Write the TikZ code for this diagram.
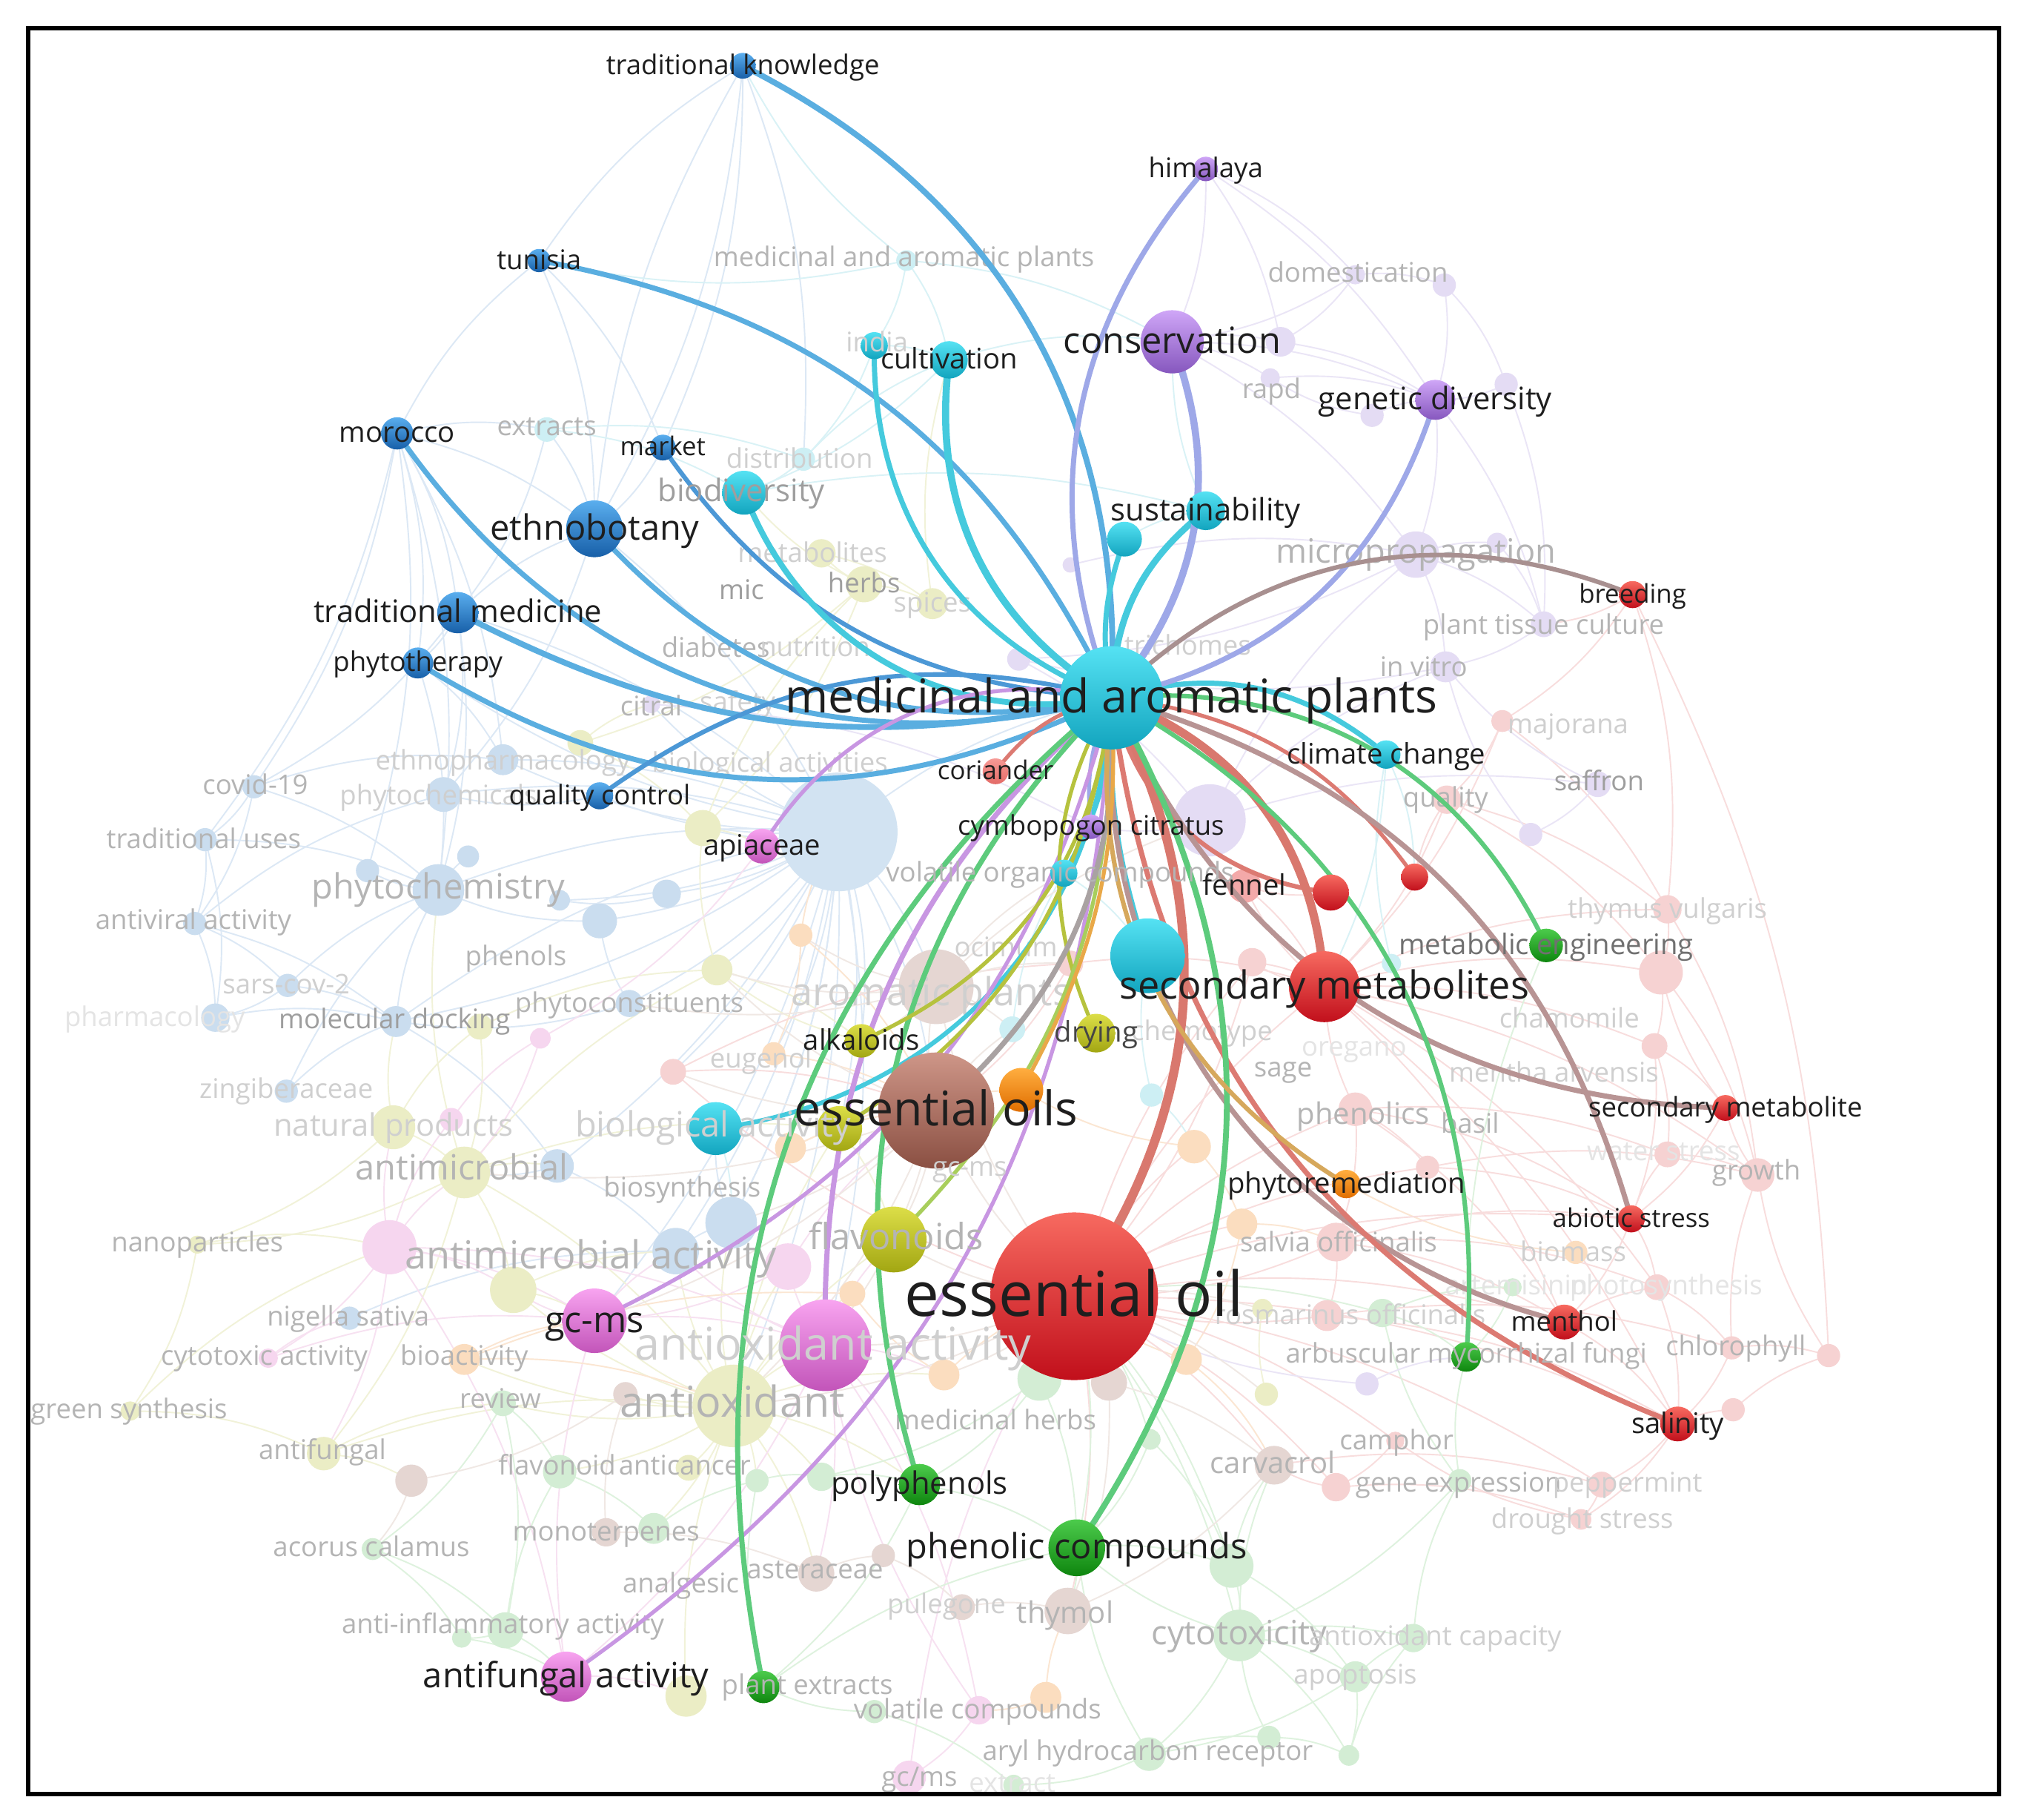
\documentclass[tikz,border=0pt]{standalone}
\usepackage{fontspec}
\setmainfont{Open Sans}
\pgfdeclarelayer{l0}\pgfdeclarelayer{l1}\pgfdeclarelayer{l2}\pgfdeclarelayer{l3}
\pgfdeclarelayer{l4}\pgfdeclarelayer{l5}\pgfdeclarelayer{l6}
\pgfsetlayers{l0,l1,l2,l3,l4,main,l5,l6}
\newcounter{lc}
% node colours (top / bottom)
\definecolor{blT}{HTML}{5AAEEE}\definecolor{blD}{HTML}{175FA8}
\definecolor{cyT}{HTML}{55E2F3}\definecolor{cyD}{HTML}{12A4BE}
\definecolor{puT}{HTML}{CFA6F7}\definecolor{puD}{HTML}{8657BE}
\definecolor{rdT}{HTML}{F76A60}\definecolor{rdD}{HTML}{C10F1B}
\definecolor{grT}{HTML}{4CCB4C}\definecolor{grD}{HTML}{0E850E}
\definecolor{olT}{HTML}{DCDE48}\definecolor{olD}{HTML}{A2A612}
\definecolor{brT}{HTML}{CE9688}\definecolor{brD}{HTML}{8A4F42}
\definecolor{ogT}{HTML}{FFAE40}\definecolor{ogD}{HTML}{E06E00}
\definecolor{pkT}{HTML}{F8A4F0}\definecolor{pkD}{HTML}{C254B9}
\definecolor{saT}{HTML}{F79A96}\definecolor{saD}{HTML}{E36A66}
% highlighted link colours
\definecolor{cBlu}{HTML}{5AAEE0}\definecolor{cBlu2}{HTML}{4C98D6}
\definecolor{cCy}{HTML}{45CADD}\definecolor{cPu}{HTML}{9EA8E8}
\definecolor{cPk}{HTML}{C896E2}\definecolor{cTeRd}{HTML}{A89090}
\definecolor{cRd}{HTML}{DC7A72}\definecolor{cRd2}{HTML}{D9786E}
\definecolor{cGrRd}{HTML}{B89494}\definecolor{cGr}{HTML}{5DCB7C}
\definecolor{cOl}{HTML}{B6C23E}\definecolor{cOl2}{HTML}{A8CE5C}
\definecolor{cBrG}{HTML}{A9A2A2}\definecolor{cOg}{HTML}{E9A848}
\definecolor{cOg2}{HTML}{D6A85C}
% faded node colours
\definecolor{fCy}{HTML}{CDEFF4}\definecolor{fYe}{HTML}{EBEDC5}
\definecolor{fPu}{HTML}{E4DCF4}\definecolor{fRd}{HTML}{F6D2D2}
\definecolor{fBl}{HTML}{CADDEF}\definecolor{fBl2}{HTML}{D2E3F2}
\definecolor{fPk}{HTML}{F6D6EF}\definecolor{fGr}{HTML}{D3EDD4}
\definecolor{fBr}{HTML}{E5D6D2}\definecolor{fOr}{HTML}{FBDDBF}
\definecolor{fennelC}{HTML}{F3A9A9}
% faint link colours
\definecolor{lBl}{HTML}{DCE8F5}\definecolor{lYe}{HTML}{F1F2D8}
\definecolor{lPk}{HTML}{F7E1F1}\definecolor{lRd}{HTML}{F8DDDD}
\definecolor{lGr}{HTML}{DEF2DE}\definecolor{lPu}{HTML}{EAE5F6}
\definecolor{lCy}{HTML}{D9F2F6}\definecolor{lOr}{HTML}{FBE6D2}
\definecolor{lMx}{HTML}{F0E8E4}
% label colours
\definecolor{labK}{HTML}{1E1E1E}\definecolor{fa}{HTML}{9E9E9E}
\definecolor{fb}{HTML}{B4B4B4}\definecolor{fc}{HTML}{CFCFCF}
\definecolor{fd}{HTML}{E4E4E4}\definecolor{mgray}{HTML}{707070}
\definecolor{dgray}{HTML}{454545}
\tikzset{
  every node/.append style={inner sep=0pt, outer sep=0pt},
  fnd/.style 2 args={circle, fill=#2, minimum size=#1},
  hlab/.style={font=\fontsize{#1}{#1}\selectfont, text=labK, anchor=base, yshift=-0.32*#1},
  flab/.style 2 args={font=\fontsize{#1}{#1}\selectfont, text=#2, anchor=base, yshift=-0.32*#1},
  faint/.style={line width=1.1pt},
}
\newcommand\FN[5]{\node[fnd={#4}{#5}] (#1) at (#2,#3) {};}
\newcommand\HN[5]{\node[circle, minimum size=#4, top color=#5T, bottom color=#5D] (#1) at (#2,#3) {};}
\newcommand\HL[3]{\node[hlab=#2] (#1-lab) at (#1.center) {#3};}
\newcommand\HLk[4]{\draw[line width=#3, color=#2, line cap=round] (map.center) to[#4] (#1.center);}
\newcommand\FL[5]{\stepcounter{lc}\node[flab={#3}{#4}] (fl\arabic{lc}) at (#1,#2) {#5};}
\begin{document}
\begin{tikzpicture}[x=1pt,y=-1pt]
\useasboundingbox (0,0) rectangle (1568,1411);
\begin{pgfonlayer}{l0}
\fill[white] (0,0) rectangle (1568,1411);
\end{pgfonlayer}
% ---------------- faded nodes
\begin{pgfonlayer}{l2}
\FN{mapN}{703}{202}{16}{fCy}
\FN{extractsN}{424}{333}{19}{fCy}
\FN{distrN}{623}{356}{18}{fCy}
\FN{metabN}{637}{429}{22}{fYe}
\FN{herbsN}{670}{453}{28}{fYe}
\FN{spicesN}{723}{468}{24}{fYe}
\FN{domN1}{1051}{213}{15}{fPu}
\FN{domN2}{1120}{221}{18}{fPu}
\FN{fpu1}{993}{265}{23}{fPu}
\FN{rapdN}{985}{293}{15}{fPu}
\FN{fpu2}{1064}{322}{18}{fPu}
\FN{fpu3}{1168}{298}{18}{fPu}
\FN{microN}{1098}{430}{36}{fPu}
\FN{fpu4}{1161}{421}{16}{fPu}
\FN{fpu5}{830}{438}{12}{fPu}
\FN{ptcN}{1197}{484}{20}{fPu}
\FN{invitroN}{1121}{517}{24}{fPu}
\FN{fpu6}{790}{511}{18}{fPu}
\FN{fr1}{1165}{559}{17}{fRd}
\FN{qualityN}{1122}{620}{22}{fRd}
\FN{saffronN}{1239}{608}{20}{fPu}
\FN{fpu7}{1187}{647}{18}{fPu}
\FN{bigpurp}{938}{636}{56}{fPu}
\FN{thymvN}{1293}{705}{22}{fRd}
\FN{fr5}{1288}{754}{34}{fRd}
\FN{fr6}{1283}{811}{20}{fRd}
\FN{waterN}{1293}{895}{20}{fRd}
\FN{growthN}{1363}{911}{26}{fRd}
\FN{phenolicsN}{1051}{860}{26}{fRd}
\FN{fr2}{971}{746}{22}{fRd}
\FN{fc2}{1079}{747}{15}{fCy}
\FN{fo6}{926}{889}{26}{fOr}
\FN{fc1}{893}{849}{18}{fCy}
\FN{fr4}{1107}{905}{18}{fRd}
\FN{fr3}{830}{747}{20}{fRd}
\FN{fennelN}{965}{687}{26}{fennelC}
\FN{fo1}{621}{725}{18}{fOr}
\FN{fy3}{556}{752}{24}{fYe}
\FN{fb1}{517}{693}{22}{fBl}
\FN{fb2}{465}{714}{27}{fBl}
\FN{fb3}{434}{698}{16}{fBl}
\FN{phytocon}{488}{778}{21}{fBl}
\FN{fp2}{419}{805}{16}{fPk}
\FN{eugenN}{522}{831}{20}{fRd}
\FN{fo2}{600}{817}{18}{fOr}
\FN{aromN}{726}{765}{58}{fBr}
\FN{fc3}{785}{798}{20}{fCy}
\FN{fo3}{613}{890}{24}{fOr}
\FN{fy1}{450}{576}{20}{fYe}
\FN{fy2}{545}{642}{28}{fYe}
\FN{fb4}{432}{904}{26}{fBl}
\FN{citralN}{505}{546}{14}{fPu}
\FN{ethnoph}{390}{589}{24}{fBl}
\FN{covid}{197}{610}{18}{fBl}
\FN{tuses}{159}{651}{18}{fBl}
\FN{bb1}{285}{675}{18}{fBl}
\FN{phytochem}{340}{690}{40}{fBl}
\FN{phytochemicals}{344}{616}{27}{fBl}
\FN{bb2}{363}{664}{17}{fBl}
\FN{antiv}{151}{716}{18}{fBl}
\FN{sars}{223}{764}{18}{fBl}
\FN{pharm}{167}{789}{22}{fBl}
\FN{moldock}{307}{792}{24}{fBl}
\FN{fy4}{372}{796}{20}{fYe}
\FN{zingib}{222}{846}{18}{fBl}
\FN{natprod}{305}{874}{34}{fYe}
\FN{fp1}{350}{868}{18}{fPk}
\FN{antimic}{360}{909}{40}{fYe}
\FN{bigblue}{650}{645}{92}{fBl2}
\FN{nanop}{153}{965}{14}{fYe}
\FN{antimicact}{302}{967}{42}{fPk}
\FN{fy5}{398}{1000}{36}{fYe}
\FN{nigella}{271}{1022}{18}{fBl}
\FN{cytoact}{208}{1053}{15}{fPk}
\FN{bioactN}{360}{1054}{24}{fOr}
\FN{reviewN}{390}{1088}{20}{fGr}
\FN{greensyn}{101}{1094}{15}{fYe}
\FN{antifung}{251}{1127}{26}{fYe}
\FN{fbr1}{319}{1148}{25}{fBr}
\FN{acorusN}{289}{1201}{17}{fGr}
\FN{fg1}{392}{1264}{28}{fGr}
\FN{fg2}{358}{1270}{15}{fGr}
\FN{fb5}{524}{970}{36}{fBl}
\FN{fb6}{567}{948}{40}{fBl}
\FN{fp3}{611}{982}{36}{fPk}
\FN{fo4}{661}{1003}{20}{fOr}
\FN{antiox}{569}{1090}{64}{fYe}
\FN{fbr2}{485}{1081}{19}{fBr}
\FN{fo5}{732}{1066}{24}{fOr}
\FN{flavoidN}{434}{1141}{26}{fGr}
\FN{fg3}{587}{1148}{18}{fGr}
\FN{fy6}{534}{1138}{20}{fYe}
\FN{fg4}{637}{1145}{22}{fGr}
\FN{fg5}{507}{1185}{24}{fGr}
\FN{fbr3}{470}{1188}{22}{fBr}
\FN{asterN}{633}{1220}{28}{fBr}
\FN{fbr4}{685}{1206}{18}{fBr}
\FN{fy7}{532}{1315}{32}{fYe}
\FN{pulegN}{746}{1246}{20}{fBr}
\FN{fp4}{759}{1326}{22}{fPk}
\FN{fp5}{705}{1378}{26}{fPk}
\FN{fg14}{678}{1327}{18}{fGr}
\FN{fg15}{786}{1384}{16}{fGr}
\FN{fo7}{963}{949}{24}{fOr}
\FN{salviaN}{1036}{963}{30}{fRd}
\FN{rosmN}{1029}{1020}{24}{fRd}
\FN{fg6}{1072}{1018}{22}{fGr}
\FN{fy9}{979}{1015}{16}{fYe}
\FN{fy8}{982}{1081}{18}{fYe}
\FN{fo8}{920}{1054}{24}{fOr}
\FN{fg7}{806}{1069}{34}{fGr}
\FN{fbr5}{860}{1072}{28}{fBr}
\FN{fpu8}{1060}{1073}{18}{fPu}
\FN{fg8}{892}{1116}{16}{fGr}
\FN{carvN}{988}{1136}{30}{fBr}
\FN{fr9}{1036}{1153}{22}{fRd}
\FN{fg9}{1132}{1148}{18}{fGr}
\FN{camphorN}{1082}{1117}{14}{fRd}
\FN{fg10}{955}{1214}{34}{fGr}
\FN{thymolN}{828}{1249}{36}{fBr}
\FN{cytotoxN}{961}{1268}{40}{fGr}
\FN{antioxcapN}{1096}{1270}{22}{fGr}
\FN{apoptN}{1051}{1300}{24}{fGr}
\FN{fo9}{811}{1316}{24}{fOr}
\FN{fg11}{984}{1347}{18}{fGr}
\FN{fg12}{891}{1360}{26}{fGr}
\FN{fg13}{1046}{1361}{16}{fGr}
\FN{biomassN}{1222}{971}{18}{fOr}
\FN{fg16}{1173}{998}{14}{fGr}
\FN{photoN}{1285}{998}{20}{fRd}
\FN{chloroN}{1343}{1045}{18}{fRd}
\FN{fr7}{1418}{1051}{18}{fRd}
\FN{fr8}{1344}{1093}{18}{fRd}
\FN{pepperN}{1242}{1151}{20}{fRd}
\FN{droughtN}{1226}{1178}{16}{fRd}
\end{pgfonlayer}
% ---------------- highlighted nodes
\HN{map}{862}{541}{80}{cy}
\HN{tk}{576}{51}{20}{bl}
\HN{tunisia}{418}{202}{18}{bl}
\HN{morocco}{308}{336}{25}{bl}
\HN{market}{514}{347}{20}{bl}
\HN{ethno}{461}{410}{44}{bl}
\HN{tradmed}{355}{475}{32}{bl}
\HN{phytoth}{324}{514}{24}{bl}
\HN{qc}{465}{617}{21}{bl}
\HN{cult}{736}{279}{29}{cy}
\HN{india}{678}{268}{21}{cy}
\HN{biodiv}{577}{382}{34}{cy}
\HN{sustain}{935}{396}{30}{cy}
\HN{cyanS}{872}{418}{27}{cy}
\HN{climate}{1075}{585}{22}{cy}
\HN{voc}{825}{677}{21}{cy}
\HN{cyanbig}{890}{741}{58}{cy}
\HN{bioact}{555}{875}{41}{cy}
\HN{himalaya}{935}{131}{19}{pu}
\HN{conserv}{909}{265}{49}{pu}
\HN{genetic}{1113}{310}{31}{pu}
\HN{cymbo}{846}{641}{19}{pu}
\HN{breeding}{1266}{461}{21}{rd}
\HN{redA}{1097}{680}{21}{rd}
\HN{redB}{1032}{692}{28}{rd}
\HN{secmets}{1027}{765}{55}{rd}
\HN{secmet}{1338}{859}{20}{rd}
\HN{abiotic}{1265}{945}{21}{rd}
\HN{menthol}{1213}{1025}{27}{rd}
\HN{salinity}{1301}{1104}{27}{rd}
\HN{essoil}{833}{1005}{130}{rd}
\HN{coriander}{772}{598}{20}{sa}
\HN{metaeng}{1199}{733}{26}{gr}
\HN{arbus}{1137}{1052}{23}{gr}
\HN{phencomp}{835}{1200}{44}{gr}
\HN{polyph}{713}{1151}{32}{gr}
\HN{plantext}{592}{1308}{25}{gr}
\HN{alkal}{668}{807}{26}{ol}
\HN{drying}{850}{801}{30}{ol}
\HN{yellowN}{651}{875}{35}{ol}
\HN{flavon}{693}{961}{51}{ol}
\HN{essoils}{726}{861}{90}{br}
\HN{orangeN}{792}{845}{34}{og}
\HN{phytorem}{1044}{918}{22}{og}
\HN{apiac}{591}{656}{27}{pk}
\HN{gcms}{461}{1024}{50}{pk}
\HN{pinkbig}{640}{1043}{71}{pk}
\HN{antifact}{439}{1300}{39}{pk}
% ---------------- faint links
\begin{pgfonlayer}{l1}
\foreach \a/\b in {morocco/tradmed,morocco/phytoth,morocco/ethno,morocco/tunisia,morocco/covid,morocco/phytochem,morocco/ethnoph,morocco/bb1,morocco/tuses,morocco/extractsN,tunisia/ethno,tunisia/market,tunisia/tk,tk/ethno,tk/market,tk/distrN,tradmed/phytoth,tradmed/phytochem,tradmed/ethno,tradmed/covid,tradmed/bigblue,tradmed/phytochemicals,phytoth/phytochem,phytoth/ethnoph,covid/tuses,covid/antiv,covid/ethnoph,covid/phytochem,tuses/antiv,tuses/phytochem,tuses/pharm,antiv/sars,antiv/pharm,antiv/moldock,sars/moldock,sars/pharm,sars/phytochem,pharm/moldock,moldock/phytochem,moldock/bigblue,phytochem/bigblue,phytochem/bb1,phytochem/bb2,phytochemicals/bigblue,ethnoph/bigblue,ethno/bigblue,ethno/phytochemicals,zingib/phytochem,zingib/moldock,nigella/fb5,bigblue/fb1,bigblue/fb2,bigblue/fb3,bigblue/phytocon,bigblue/fb6,bigblue/fb4,bigblue/essoils,bigblue/qc,bigblue/fy2,bigblue/pinkbig,bigblue/fb5,bigblue/map,bigblue/aromN,bigblue/citralN,phytocon/moldock,fb4/antimic,fb5/fb6,qc/phytochemicals,market/ethno,extractsN/ethno,extractsN/tradmed,fb2/phytochem,fb1/fb3,antiv/phytochemicals,bigblue/antiox,bigblue/gcms,bigblue/fy3,bigblue/alkal,bigblue/yellowN,bigblue/fo2,bigblue/eugenN,bigblue/phytoth,bigblue/ethnoph,bigblue/moldock,bigblue/fb6,fb4/fb5,fb6/bioact,phytocon/fb2,moldock/fb4,ethno/tk}
  \draw[faint,lBl] (\a.center) to[bend left=12] (\b.center);
\foreach \a/\b in {natprod/antimic,natprod/fy4,natprod/nanop,antimic/nanop,antimic/antifung,antimic/antiox,antimic/fy5,nanop/greensyn,greensyn/antifung,antifung/antiox,antifung/fbr1,antiox/fy6,antiox/fy5,antiox/flavon,antiox/yellowN,fy3/fy2,fy3/alkal,herbsN/spicesN,herbsN/metabN,metabN/spicesN,herbsN/fy1,fy1/fy2,fy7/antiox,fy8/fy9,antimic/phytochem,greensyn/antimicact,nanop/antimicact,fy4/antimic,natprod/moldock,fy5/gcms,antifung/reviewN,fy2/apiac,herbsN/biodiv,spicesN/cult,antiox/pinkbig,antiox/fp3,antiox/fb6,antiox/fb5,antiox/gcms,antiox/bioactN,antiox/reviewN,antiox/flavoidN,antiox/fg5,antiox/fbr2,antiox/fo4,antiox/fo5,antiox/polyph,antiox/fg3,antiox/fg4,antiox/asterN,antimic/yellowN,antimic/fy3,antimic/fb4,fy4/fy3,fy5/fb5,yellowN/flavon,alkal/fy3,fy2/herbsN,fy1/citralN,herbsN/fy2}
  \draw[faint,lYe] (\a.center) to[bend left=12] (\b.center);
\foreach \a/\b in {antimicact/cytoact,antimicact/gcms,antimicact/pinkbig,antimicact/fp1,fp1/fp2,cytoact/gcms,gcms/pinkbig,pinkbig/fp3,pinkbig/antifact,antifact/gcms,fp4/fp5,fp4/pinkbig,fp5/essoil,apiac/fp2,antimicact/antifact,cytoact/nigella,fp3/essoils,antifact/fy7,pinkbig/fp4,pinkbig/polyph,pinkbig/flavon,pinkbig/fo5,pinkbig/fb5,antimicact/fy5,antimicact/natprod,antimicact/antimic,antimicact/antifung,gcms/fb5,gcms/fy5,fp3/gcms,pinkbig/asterN,fp2/antimic}
  \draw[faint,lPk] (\a.center) to[bend left=12] (\b.center);
\foreach \a/\b in {bioactN/fo4,bioactN/antiox,fo1/fo2,fo3/orangeN,fo5/fo4,fo6/fo7,fo7/fo8,fo8/essoil,fo9/fp4,biomassN/phytorem,fo6/orangeN,fo1/bigblue,fo5/essoil,fo9/thymolN,bioactN/gcms,fo3/essoils,fo2/essoils,fo1/essoils,fo4/pinkbig,fo8/carvN,fo7/salviaN}
  \draw[faint,lOr] (\a.center) to[bend left=12] (\b.center);
\foreach \a/\b in {fr1/qualityN,qualityN/secmets,qualityN/thymvN,thymvN/fr5,fr5/fr6,fr6/waterN,waterN/growthN,growthN/secmet,secmet/fr5,secmet/abiotic,abiotic/waterN,abiotic/menthol,abiotic/photoN,photoN/chloroN,chloroN/fr7,chloroN/salinity,salinity/fr8,fr8/fr7,salinity/pepperN,salinity/droughtN,menthol/photoN,pepperN/droughtN,droughtN/camphorN,camphorN/fr9,fr9/carvN,salviaN/rosmN,salviaN/essoil,rosmN/essoil,phenolicsN/secmets,phenolicsN/salviaN,phenolicsN/fr4,fr4/abiotic,fr2/secmets,fr3/essoils,eugenN/essoils,essoil/phenolicsN,essoil/carvN,essoil/thymolN,secmets/growthN,secmets/thymvN,breeding/fr1,breeding/ptcN,thymvN/growthN,fr1/thymvN,secmets/fr5,fr6/secmet,chloroN/growthN,fr7/growthN,breeding/fr7,breeding/thymvN,secmets/salinity,menthol/salinity,secmets/menthol,qualityN/fr5,fr1/secmets,redA/qualityN,redB/fennelN,fennelN/secmets,secmets/fr6,phenolicsN/abiotic,salviaN/menthol,fr5/growthN,photoN/salinity,essoil/fr9,eugenN/fr3,fr2/essoil,rosmN/salinity,secmets/photoN,salviaN/abiotic,essoil/fr4,essoil/camphorN,essoil/pepperN,essoil/menthol,essoil/secmets,essoil/abiotic,essoil/salinity,essoil/fo6,essoil/fo7,essoil/fr2,phenolicsN/menthol,phenolicsN/waterN,fr4/growthN,fr6/abiotic,salviaN/photoN,rosmN/chloroN,carvN/pepperN,fr9/droughtN,essoil/eugenN,secmets/fennelN,secmets/fr2,fr3/secmets}
  \draw[faint,lRd] (\a.center) to[bend left=12] (\b.center);
\foreach \a/\b in {reviewN/acorusN,reviewN/fg1,acorusN/fg1,acorusN/fg2,fg1/fg2,fg1/flavoidN,flavoidN/fg5,fg5/fg3,fg3/fg4,fg4/polyph,polyph/phencomp,phencomp/fg10,fg10/cytotoxN,cytotoxN/antioxcapN,cytotoxN/apoptN,cytotoxN/fg12,apoptN/fg13,fg11/fg13,fg12/fg15,fg14/plantext,plantext/fg3,antioxcapN/fg9,fg9/arbus,fg8/fg10,fg6/arbus,fg7/polyph,cytotoxN/phencomp,apoptN/antioxcapN,fg11/cytotoxN,fg12/phencomp,fg16/arbus,fg6/fg16,reviewN/flavoidN,fg7/phencomp,fg7/essoil,fg8/phencomp,fg10/apoptN,fg14/fg15,plantext/phencomp,fg2/antifact,fg1/antifact,polyph/plantext,fg12/fg11,arbus/metaeng,phencomp/thymolN,cytotoxN/fg13,fg9/cytotoxN,apoptN/fg12,essoil/fg10,essoil/cytotoxN,essoil/fg6,essoil/phencomp,essoil/fg8,fg7/fg4,fg10/carvN,cytotoxN/carvN,fg9/fg6,fg13/antioxcapN}
  \draw[faint,lGr] (\a.center) to[bend left=12] (\b.center);
\foreach \a/\b in {domN1/domN2,domN1/conserv,domN2/genetic,conserv/fpu1,conserv/rapdN,fpu1/genetic,rapdN/genetic,fpu2/genetic,fpu2/rapdN,fpu3/genetic,genetic/microN,microN/fpu4,microN/ptcN,microN/invitroN,ptcN/invitroN,invitroN/fpu6,fpu4/ptcN,himalaya/conserv,himalaya/domN1,himalaya/genetic,fpu5/microN,saffronN/fpu7,saffronN/invitroN,bigpurp/cymbo,bigpurp/invitroN,fpu8/arbus,citralN/cymbo,fpu3/ptcN,domN2/fpu3,conserv/microN,himalaya/fpu1,domN1/fpu1,fpu6/bigpurp,fpu7/invitroN,microN/fpu6,genetic/ptcN,conserv/genetic,bigpurp/microN,bigpurp/saffronN,fpu8/essoil}
  \draw[faint,lPu] (\a.center) to[bend left=12] (\b.center);
\foreach \a/\b in {mapN/cult,mapN/india,mapN/tk,mapN/tunisia,distrN/biodiv,distrN/cult,extractsN/biodiv,india/cult,cult/biodiv,cult/conserv,sustain/conserv,fc1/cyanbig,fc2/climate,fc3/voc,voc/cyanbig,climate/secmets,bioact/fb6,mapN/conserv,biodiv/sustain,india/distrN,extractsN/distrN,cyanS/sustain,fc1/fo6,climate/redA}
  \draw[faint,lCy] (\a.center) to[bend left=12] (\b.center);
\foreach \a/\b in {essoils/antiox,essoils/aromN,essoils/fy3,essoils/flavon,essoils/gcms,essoils/pinkbig,essoils/antimic,essoils/eugenN,essoils/fc3,essoils/fb6,essoil/essoils,essoil/aromN,essoil/flavon,essoil/pinkbig,essoil/antiox,essoil/fo5,essoil/fbr5,essoil/fy9,essoil/fy8,aromN/fy3,aromN/fo1,aromN/fr3,aromN/fc3,aromN/alkal,aromN/voc,aromN/bigpurp,aromN/phytocon,asterN/fbr4,fbr4/pulegN,pulegN/thymolN,fbr3/fbr2,fbr2/fbr1,fbr1/acorusN,fbr3/asterN,carvN/thymolN,fbr5/thymolN,fbr5/carvN}
  \draw[faint,lMx] (\a.center) to[bend left=12] (\b.center);
\end{pgfonlayer}
% ---------------- highlighted links
\begin{pgfonlayer}{l4}
\HLk{tk}{cBlu}{4.5}{bend right=33}
\HLk{tunisia}{cBlu}{4}{bend right=27}
\HLk{morocco}{cBlu}{4}{bend left=35}
\HLk{market}{cBlu2}{3.5}{bend left=26}
\HLk{ethno}{cBlu}{4}{bend left=30}
\HLk{tradmed}{cBlu}{4.5}{bend left=20}
\HLk{phytoth}{cBlu}{4}{bend left=29}
\HLk{qc}{cBlu2}{3.5}{bend right=25}
\HLk{cult}{cCy}{5.5}{bend left=33}
\HLk{india}{cCy}{4}{bend left=35}
\HLk{biodiv}{cCy}{4.5}{bend left=40}
\HLk{sustain}{cCy}{5}{bend left=25}
\HLk{cyanS}{cCy}{4}{bend left=15}
\HLk{climate}{cCy}{4}{bend left=28}
\HLk{voc}{cCy}{3.5}{bend left=15}
\HLk{cyanbig}{cCy}{4}{bend right=10}
\HLk{bioact}{cCy}{3.5}{bend left=40}
\HLk{himalaya}{cPu}{4}{bend left=31}
\HLk{conserv}{cPu}{5.5}{bend right=30}
\HLk{genetic}{cPu}{4}{bend right=30}
\HLk{cymbo}{cPu}{3}{bend right=15}
\HLk{apiac}{cPk}{3}{bend right=35}
\HLk{gcms}{cPk}{3}{bend left=25}
\HLk{pinkbig}{cPk}{4}{bend right=25}
\HLk{antifact}{cPk}{3}{bend left=26}
\HLk{breeding}{cTeRd}{3.5}{bend left=33}
\HLk{redA}{cRd}{3}{bend left=24}
\HLk{redB}{cRd}{3.5}{bend right=35}
\HLk{secmets}{cRd2}{6.5}{bend left=33}
\HLk{secmet}{cGrRd}{4}{bend right=32}
\HLk{abiotic}{cGrRd}{4}{bend left=29}
\HLk{menthol}{cGrRd}{4}{bend right=40}
\HLk{salinity}{cRd}{4}{bend right=31}
\HLk{essoil}{cRd2}{7}{bend left=31}
\HLk{coriander}{cRd}{3}{bend right=20}
\HLk{metaeng}{cGr}{3.5}{bend left=35}
\HLk{arbus}{cGr}{3.5}{bend left=33}
\HLk{phencomp}{cGr}{4.5}{bend left=32}
\HLk{polyph}{cGr}{4}{bend right=31}
\HLk{plantext}{cGr}{4}{bend right=31}
\HLk{alkal}{cOl}{3}{bend left=30}
\HLk{drying}{cOl}{3}{bend right=27}
\HLk{yellowN}{cOl}{3}{bend left=25}
\HLk{flavon}{cOl2}{3}{bend left=23}
\HLk{essoils}{cBrG}{4}{bend left=26}
\HLk{orangeN}{cOg}{3}{bend left=16}
\HLk{phytorem}{cOg2}{3.5}{bend right=33}
\end{pgfonlayer}
% ---------------- faded labels
\begin{pgfonlayer}{l3}
\FL{701}{200}{21}{fb}{medicinal and aromatic plants}
\FL{1053}{212}{21}{fb}{domestication}
\FL{986}{302}{21}{fb}{rapd}
\FL{424}{331}{21}{fb}{extracts}
\FL{620}{356}{21}{fc}{distribution}
\FL{1098}{428}{26}{fb}{micropropagation}
\FL{630}{429}{21}{fc}{metabolites}
\FL{670}{453}{21}{fa}{herbs}
\FL{575}{458}{21}{fa}{mic}
\FL{723}{468}{21}{fc}{spices}
\FL{555}{503}{21}{fb}{diabetes}
\FL{632}{502}{21}{fc}{nutrition}
\FL{921}{501}{21}{fc}{trichomes}
\FL{1197}{485}{21}{fb}{plant tissue culture}
\FL{1104}{518}{21}{fb}{in vitro}
\FL{505}{548}{21}{fb}{citral}
\FL{572}{545}{21}{fc}{safety}
\FL{1216}{562}{21}{fc}{majorana}
\FL{390}{590}{21}{fc}{ethnopharmacology}
\FL{597}{592}{21}{fc}{biological activities}
\FL{198}{609}{21}{fb}{covid-19}
\FL{340}{617}{21}{fc}{phytochemicals}
\FL{1121}{619}{21}{fb}{quality}
\FL{1240}{606}{21}{fa}{saffron}
\FL{158}{651}{21}{fb}{traditional uses}
\FL{340}{688}{27}{fb}{phytochemistry}
\FL{150}{714}{21}{fb}{antiviral activity}
\FL{1293}{705}{21}{fc}{thymus vulgaris}
\FL{400}{742}{21}{fb}{phenols}
\FL{222}{764}{21}{fc}{sars-cov-2}
\FL{120}{789}{21}{fd}{pharmacology}
\FL{306}{791}{21}{fa}{molecular docking}
\FL{488}{778}{21}{fb}{phytoconstituents}
\FL{722}{770}{30}{fc}{aromatic plants}
\FL{780}{735}{21}{fc}{ocimum}
\FL{932}{800}{21}{fc}{chemotype}
\FL{1217}{790}{21}{fc}{chamomile}
\FL{1050}{812}{21}{fd}{oregano}
\FL{995}{828}{21}{fb}{sage}
\FL{1205}{832}{21}{fc}{mentha arvensis}
\FL{590}{821}{21}{fc}{eugenol}
\FL{222}{845}{21}{fc}{zingiberaceae}
\FL{1057}{864}{23}{fb}{phenolics}
\FL{1140}{872}{21}{fb}{basil}
\FL{305}{873}{24}{fc}{natural products}
\FL{1290}{893}{21}{fd}{water stress}
\FL{358}{906}{27}{fb}{antimicrobial}
\FL{529}{921}{21}{fb}{biosynthesis}
\FL{1362}{908}{21}{fb}{growth}
\FL{153}{964}{21}{fb}{nanoparticles}
\FL{458}{974}{30}{fb}{antimicrobial activity}
\FL{1038}{964}{21}{fb}{salvia officinalis}
\FL{1220}{971}{21}{fc}{biomass}
\FL{1176}{997}{21}{fd}{artemisinin}
\FL{1292}{997}{21}{fd}{photosynthesis}
\FL{1047}{1020}{21}{fc}{rosmarinus officinalis}
\FL{270}{1021}{21}{fb}{nigella sativa}
\FL{205}{1052}{21}{fb}{cytotoxic activity}
\FL{360}{1052}{21}{fb}{bioactivity}
\FL{1346}{1044}{21}{fb}{chlorophyll}
\FL{388}{1085}{21}{fb}{review}
\FL{568}{1088}{33}{fb}{antioxidant}
\FL{100}{1093}{21}{fb}{green synthesis}
\FL{772}{1102}{21}{fb}{medicinal herbs}
\FL{1083}{1117}{21}{fb}{camphor}
\FL{250}{1125}{21}{fb}{antifungal}
\FL{432}{1137}{21}{fb}{flavonoid}
\FL{531}{1137}{21}{fb}{anticancer}
\FL{987}{1135}{23}{fb}{carvacrol}
\FL{1131}{1150}{21}{fb}{gene expression}
\FL{1262}{1150}{21}{fc}{peppermint}
\FL{1227}{1178}{21}{fc}{drought stress}
\FL{470}{1188}{21}{fb}{monoterpenes}
\FL{288}{1200}{21}{fb}{acorus calamus}
\FL{632}{1217}{21}{fb}{asteraceae}
\FL{528}{1228}{21}{fb}{analgesic}
\FL{734}{1244}{21}{fc}{pulegone}
\FL{826}{1251}{23}{fb}{thymol}
\FL{390}{1260}{21}{fb}{anti-inflammatory activity}
\FL{961}{1267}{26}{fb}{cytotoxicity}
\FL{1113}{1269}{21}{fc}{antioxidant capacity}
\FL{1051}{1299}{21}{fc}{apoptosis}
\FL{758}{1326}{21}{fb}{volatile compounds}
\FL{890}{1358}{21}{fb}{aryl hydrocarbon receptor}
\FL{713}{1378}{21}{fb}{gc/ms}
\FL{785}{1383}{21}{fd}{extract}
\end{pgfonlayer}
\begin{pgfonlayer}{l5}
\FL{575}{381}{24}{fa}{biodiversity}
\FL{680}{266}{21}{fc}{india}
\FL{822}{677}{21}{fb}{volatile organic compounds}
\FL{553}{873}{27}{fc}{biological activity}
\FL{695}{960}{28}{fb}{flavonoids}
\FL{646}{1043}{35}{fc}{antioxidant activity}
\FL{1137}{1050}{21}{fb}{arbuscular mycorrhizal fungi}
\FL{626}{1307}{21}{fb}{plant extracts}
\FL{752}{905}{21}{fc}{gc-ms}
\end{pgfonlayer}
% ---------------- highlighted labels
\begin{pgfonlayer}{l6}
\HL{map}{36}{medicinal and aromatic plants}
\HL{tk}{21}{traditional knowledge}
\HL{tunisia}{21}{tunisia}
\HL{morocco}{22}{morocco}
\HL{market}{20}{market}
\HL{ethno}{27}{ethnobotany}
\HL{tradmed}{24}{traditional medicine}
\HL{phytoth}{21}{phytotherapy}
\HL{qc}{21}{quality control}
\HL{cult}{22}{cultivation}
\HL{sustain}{24}{sustainability}
\HL{himalaya}{21}{himalaya}
\HL{conserv}{28}{conservation}
\HL{genetic}{24}{genetic diversity}
\HL{breeding}{20}{breeding}
\HL{climate}{22}{climate change}
\node[hlab=22, text=mgray] (metaeng-lab) at (metaeng.center) {metabolic engineering};
\HL{secmets}{30}{secondary metabolites}
\HL{secmet}{21}{secondary metabolite}
\HL{abiotic}{20}{abiotic stress}
\HL{menthol}{21}{menthol}
\HL{salinity}{22}{salinity}
\HL{phytorem}{22}{phytoremediation}
\HL{essoil}{48}{essential oil}
\HL{essoils}{37}{essential oils}
\HL{phencomp}{27}{phenolic compounds}
\HL{polyph}{24}{polyphenols}
\HL{gcms}{28}{gc-ms}
\HL{antifact}{27}{antifungal activity}
\HL{apiac}{22}{apiaceae}
\HL{alkal}{22}{alkaloids}
\node[hlab=22, text=dgray] (drying-lab) at (drying.center) {drying};
\HL{cymbo}{21}{cymbopogon citratus}
\HL{coriander}{20}{coriander}
\node[hlab=22] (fennel-lab) at (fennelN.center) {fennel};
\draw[line width=3.5pt] (22,22) rectangle (1550,1391);
\end{pgfonlayer}
\end{tikzpicture}
\end{document}
